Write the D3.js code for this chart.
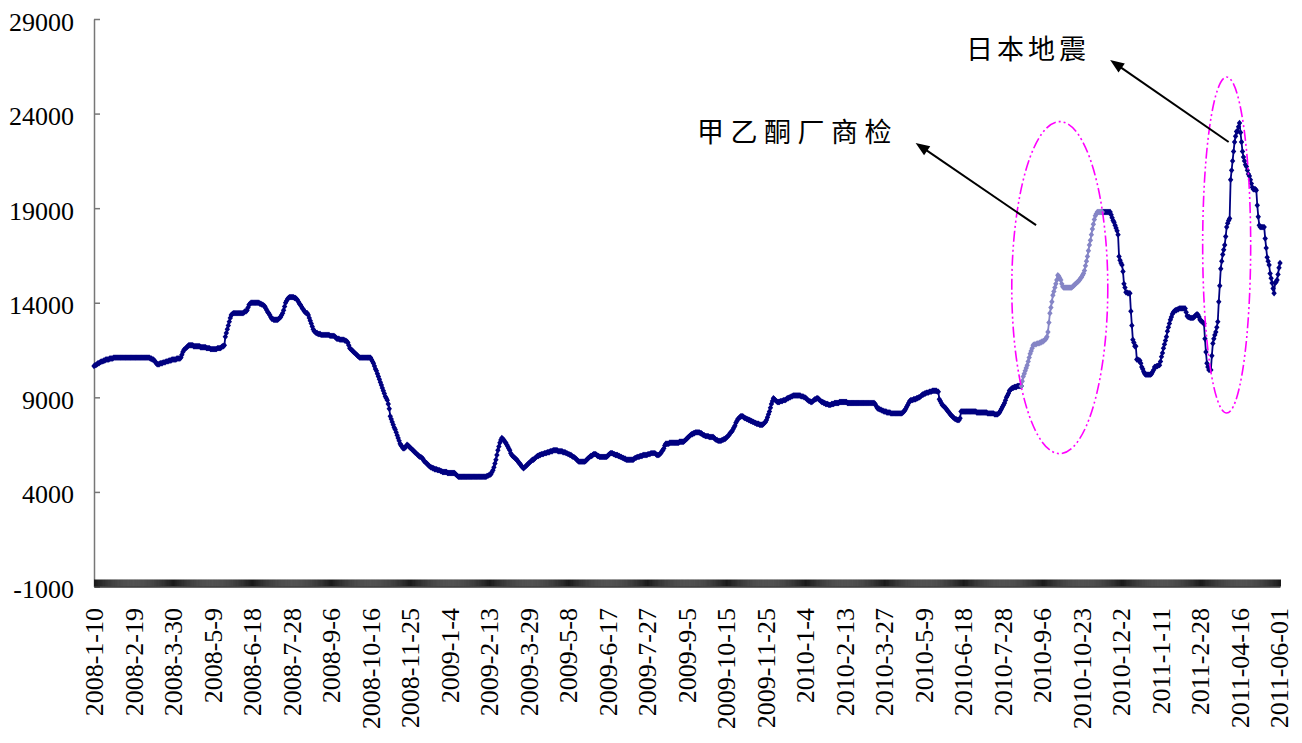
<!DOCTYPE html>
<html>
<head>
<meta charset="utf-8">
<script src="https://cdn.jsdelivr.net/npm/d3@7"></script>
<style>
  html, body { margin: 0; padding: 0; background: #fff; }
  svg { display: block; }
</style>
</head>
<body>
<svg id="chart" width="1302" height="743"></svg>
<script>
// Category axis labels: one every 40 daily observations
const tickLabels = [
  "2008-1-10", "2008-2-19", "2008-3-30", "2008-5-9", "2008-6-18", "2008-7-28",
  "2008-9-6", "2008-10-16", "2008-11-25", "2009-1-4", "2009-2-13", "2009-3-29",
  "2009-5-8", "2009-6-17", "2009-7-27", "2009-9-5", "2009-10-15", "2009-11-25",
  "2010-1-4", "2010-2-13", "2010-3-27", "2010-5-9", "2010-6-18", "2010-7-28",
  "2010-9-6", "2010-10-23", "2010-12-2", "2011-1-11", "2011-2-28", "2011-04-16",
  "2011-06-01"
];
const pointsPerLabel = 40;
const trailingPoints = 2;

// Daily price (yuan/ton), 40 values per label interval
const prices = [
  10650,10700,10700,10750,10800,10800,10850,10880,10900,10900,
  10950,10950,11000,11000,11000,11000,11050,11050,11050,11050,
  11100,11100,11100,11100,11100,11100,11100,11100,11100,11100,
  11100,11100,11100,11100,11100,11100,11100,11100,11100,11100,

  11100,11100,11100,11100,11100,11100,11100,11100,11100,11100,
  11100,11100,11100,11100,11100,11100,11100,11050,11050,11000,
  11000,10950,10900,10800,10750,10750,10750,10800,10800,10800,
  10850,10850,10850,10900,10900,10900,10950,10950,10950,11000,

  11000,11000,11000,11000,11050,11050,11050,11050,11100,11250,
  11400,11500,11550,11600,11650,11700,11750,11750,11750,11750,
  11750,11700,11700,11700,11700,11700,11700,11700,11650,11650,
  11650,11650,11650,11650,11600,11600,11600,11600,11550,11550,

  11550,11550,11550,11550,11550,11600,11600,11600,11600,11650,
  11700,11700,11750,12200,12400,12600,12800,13000,13200,13350,
  13400,13450,13450,13450,13450,13450,13450,13450,13450,13450,
  13450,13450,13500,13550,13550,13600,13750,13900,13950,14000,

  14000,14000,14000,14000,14000,14000,14000,14000,13950,13950,
  13900,13900,13850,13800,13700,13600,13500,13450,13350,13250,
  13150,13150,13100,13100,13100,13100,13100,13150,13200,13250,
  13350,13450,13600,13800,14000,14100,14200,14250,14300,14300,

  14300,14300,14300,14250,14250,14200,14150,14050,13950,13900,
  13800,13700,13650,13550,13500,13450,13450,13350,13200,13050,
  12900,12750,12600,12500,12450,12400,12400,12350,12350,12350,
  12300,12300,12300,12300,12300,12300,12300,12300,12300,12250,

  12250,12250,12250,12250,12200,12150,12100,12100,12100,12050,
  12050,12050,12050,12050,12000,12000,11950,11900,11750,11600,
  11550,11500,11450,11400,11350,11300,11250,11200,11150,11100,
  11100,11100,11100,11100,11100,11100,11100,11100,11100,11100,

  11100,11000,10900,10800,10650,10500,10400,10250,10100,9950,
  9800,9650,9500,9350,9200,9050,8950,8850,8650,8400,
  8000,7850,7700,7550,7400,7300,7150,7000,6850,6700,
  6550,6450,6400,6300,6300,6350,6400,6500,6450,6400,

  6350,6300,6250,6200,6150,6100,6050,6000,5950,5900,
  5850,5850,5800,5750,5650,5600,5550,5500,5450,5400,
  5350,5300,5300,5250,5250,5200,5200,5200,5150,5150,
  5150,5100,5100,5050,5050,5050,5050,5050,5000,5000,

  5000,5000,5000,5000,5000,5000,4950,4900,4850,4800,
  4800,4800,4800,4800,4800,4800,4800,4800,4800,4800,
  4800,4800,4800,4800,4800,4800,4800,4800,4800,4800,
  4800,4800,4800,4800,4800,4800,4800,4800,4850,4850,

  4900,4900,4950,5050,5150,5300,5500,5700,5950,6200,
  6400,6600,6750,6850,6800,6750,6650,6600,6500,6400,
  6300,6200,6050,5950,5900,5850,5800,5750,5700,5650,
  5550,5500,5450,5350,5300,5250,5300,5350,5400,5450,

  5500,5550,5600,5650,5700,5700,5750,5800,5850,5900,
  5900,5950,5950,6000,6000,6000,6050,6050,6050,6100,
  6100,6100,6150,6150,6150,6200,6200,6200,6200,6200,
  6150,6150,6150,6150,6150,6100,6100,6100,6050,6050,

  6000,6000,5950,5950,5900,5850,5850,5800,5750,5700,
  5650,5600,5600,5600,5600,5600,5600,5600,5650,5700,
  5750,5800,5850,5900,5900,5950,6000,6000,6000,5950,
  5900,5900,5850,5850,5850,5850,5850,5850,5850,5850,

  5900,5950,6000,6050,6050,6050,6000,6000,5950,5950,
  5950,5900,5900,5850,5850,5800,5800,5750,5750,5700,
  5700,5700,5700,5700,5700,5700,5700,5750,5800,5800,
  5850,5850,5850,5900,5900,5900,5950,5950,5950,5950,

  5950,6000,6000,6000,6050,6050,6050,6050,6050,6000,
  5950,5950,5950,6000,6050,6150,6200,6300,6450,6550,
  6550,6550,6550,6600,6600,6600,6600,6600,6600,6600,
  6600,6600,6600,6650,6650,6650,6650,6650,6700,6750,

  6800,6850,6900,6950,7000,7050,7050,7100,7100,7150,
  7150,7150,7150,7150,7100,7100,7050,7000,7000,6950,
  6950,6950,6950,6900,6900,6900,6900,6900,6850,6800,
  6750,6750,6700,6700,6700,6700,6750,6750,6800,6800,

  6850,6900,6950,7000,7100,7150,7200,7300,7400,7500,
  7650,7750,7850,7900,7950,8000,8000,8000,7950,7900,
  7900,7850,7850,7800,7800,7750,7750,7700,7700,7650,
  7650,7600,7600,7600,7550,7550,7550,7550,7600,7650,

  7700,7800,7950,8100,8250,8450,8650,8800,8950,8900,
  8850,8800,8750,8750,8750,8800,8800,8800,8850,8850,
  8850,8900,8950,8950,9000,9000,9050,9050,9100,9100,
  9100,9100,9100,9100,9100,9100,9050,9050,9050,9000,

  9000,8950,8900,8850,8800,8800,8750,8750,8800,8850,
  8900,8900,8950,8950,8900,8850,8800,8750,8750,8700,
  8700,8650,8650,8650,8600,8600,8600,8650,8650,8650,
  8700,8700,8700,8700,8700,8750,8750,8750,8750,8750,

  8750,8750,8750,8700,8700,8700,8700,8700,8700,8700,
  8700,8700,8700,8700,8700,8700,8700,8700,8700,8700,
  8700,8700,8700,8700,8700,8700,8700,8700,8700,8700,
  8700,8650,8550,8450,8400,8400,8350,8350,8300,8300,

  8250,8250,8250,8200,8200,8200,8200,8150,8150,8150,
  8150,8150,8150,8150,8150,8150,8150,8150,8150,8200,
  8250,8300,8400,8500,8600,8700,8800,8850,8850,8850,
  8900,8900,8900,8950,8950,9000,9000,9050,9100,9150,

  9150,9200,9200,9250,9250,9250,9300,9300,9300,9350,
  9350,9350,9350,9350,9300,9300,8900,8800,8700,8600,
  8550,8500,8450,8400,8300,8250,8200,8100,8050,8000,
  7950,7900,7850,7850,7800,7800,7800,7900,8250,8250,

  8250,8250,8250,8250,8250,8250,8250,8250,8250,8250,
  8250,8250,8250,8250,8200,8200,8200,8200,8200,8200,
  8200,8200,8200,8200,8200,8150,8150,8150,8150,8150,
  8150,8150,8100,8100,8100,8100,8150,8200,8300,8400,

  8500,8600,8700,8850,9000,9100,9200,9350,9400,9450,
  9500,9500,9550,9550,9550,9600,9600,9600,9600,9600,
  9850,10100,10250,10400,10550,10700,10900,11100,11300,11450,
  11600,11750,11800,11800,11800,11850,11850,11850,11900,11900,

  11950,11950,12000,12050,12100,12200,12450,12950,13450,13750,
  14050,14400,14600,14800,15000,15200,15450,15400,15300,15200,
  15000,14850,14800,14800,14800,14800,14800,14800,14800,14800,
  14800,14850,14900,14950,15000,15050,15100,15150,15200,15300,

  15350,15450,15550,15700,15950,16200,16450,16750,17050,17300,
  17600,17900,18150,18400,18600,18700,18800,18800,18800,18800,
  18800,18800,18800,18800,18800,18800,18800,18800,18800,18800,
  18650,18500,18350,18250,18100,17950,17800,17600,16450,16250,

  16100,16000,15650,15000,14800,14550,14550,14500,14500,14500,
  13550,12800,12050,11900,11700,11700,11000,11000,10950,10950,
  10800,10600,10500,10350,10250,10200,10200,10200,10200,10200,
  10200,10250,10350,10450,10600,10600,10650,10650,10700,10700,

  10900,11150,11350,11600,11800,12000,12200,12500,12700,12900,
  13100,13250,13400,13500,13550,13600,13600,13650,13650,13700,
  13700,13700,13700,13700,13700,13700,13500,13300,13250,13250,
  13200,13200,13200,13200,13250,13300,13350,13400,13350,13250,

  13100,13050,13000,12950,12900,12100,11400,10800,10600,10450,
  10450,10450,11200,11850,12100,12300,12450,12700,13000,14050,
  14900,15800,16200,16550,16800,17050,17500,18000,18200,18350,
  18450,20500,21000,21500,22000,22500,22800,23050,23050,23300,

  23500,23000,22500,22000,21700,21500,21300,21200,21000,20800,
  20700,20500,20300,20100,20000,20000,20000,19950,19150,18550,
  18100,18000,18000,18000,18000,18000,17400,16900,16400,16200,
  16000,15550,15300,15050,14750,14500,15050,15100,15200,15500,

  15850,16100
];

// Period drawn in the lighter colour
const highlightFrom = "2010-8-16";
const highlightTo = "2010-11-13";

const yTicks = [-1000, 4000, 9000, 14000, 19000, 24000, 29000];

// Callouts: ellipse centres and arrow ends in data terms
const callouts = [
  { label: "甲乙酮厂商检", ellipse: { date: "2010-9-24", value: 14800 },
    arrowFrom: { date: "2010-8-31", value: 18100 }, arrowTo: { date: "2010-4-28", value: 22450 } },
  { label: "日本地震", ellipse: { date: "2011-3-27", value: 17050 },
    arrowFrom: { date: "2011-3-29", value: 22500 }, arrowTo: { date: "2010-11-21", value: 26830 } }
];

// ---- build the daily category list from the label dates ----
const categories = [];
tickLabels.forEach((lab, k) => {
  const [yy, mm, dd] = lab.split("-").map(Number);
  const n = k < tickLabels.length - 1 ? pointsPerLabel : trailingPoints;
  for (let j = 0; j < n; j++) {
    const dt = new Date(Date.UTC(yy, mm - 1, dd + j));
    categories.push(`${dt.getUTCFullYear()}-${dt.getUTCMonth() + 1}-${dt.getUTCDate()}`);
  }
});
const labelCats = tickLabels.map((_, k) => categories[k * pointsPerLabel]);

const svg = d3.select("#chart");
const axisFont = "'Liberation Serif', 'Times New Roman', serif";

const x = d3.scalePoint().domain(categories).range([94, 1280]);
const y = d3.scaleLinear().domain([-1000, 29000]).range([586.5, 19]);

// ---- y axis ----
const gy = svg.append("g")
  .attr("transform", `translate(${x.range()[0]},0)`)
  .call(d3.axisLeft(y).tickValues(yTicks).tickSize(-6).tickSizeOuter(0)
    .tickPadding(20).tickFormat(d => String(d)));
gy.select(".domain").attr("stroke", "#777").attr("stroke-width", 1.5);
gy.selectAll(".tick line").attr("stroke", "#777").attr("stroke-width", 1.5);
gy.selectAll(".tick text")
  .attr("dy", 11)
  .attr("fill", "#000")
  .style("font-family", axisFont)
  .style("font-size", "26px");

// ---- x axis: one tick per day ----
const gx = svg.append("g")
  .attr("transform", `translate(0,${y(-1000)})`)
  .call(d3.axisBottom(x).tickSize(-7).tickSizeOuter(0).tickFormat(""));
gx.select(".domain").attr("stroke", "#333").attr("stroke-width", 1.5);
gx.selectAll(".tick line").attr("stroke", "#1a1a1a").attr("stroke-width", 1);

// ---- x labels ----
const gl = svg.append("g")
  .attr("transform", `translate(0,${y(-1000)})`)
  .call(d3.axisBottom(x).tickValues(labelCats).tickSize(0)
    .tickFormat((d, i) => tickLabels[i]));
gl.select(".domain").remove();
gl.selectAll(".tick text")
  .attr("transform", "rotate(-90)")
  .attr("x", -21.5)
  .attr("y", 0)
  .attr("dy", "0.34em")
  .attr("fill", "#000")
  .style("text-anchor", "end")
  .style("font-family", axisFont)
  .style("font-size", "26px");

// ---- price series ----
const hs = categories.indexOf(highlightFrom);
const he = categories.indexOf(highlightTo);
const series = [
  { color: "#000080", inRange: i => i <= hs || i >= he },
  { color: "#8585c6", inRange: i => i >= hs && i <= he }
];
const diamond = "M0,-3.2L2.7,0L0,3.2L-2.7,0Z";

series.forEach(s => {
  const line = d3.line()
    .defined((d, i) => s.inRange(i))
    .x((d, i) => x(categories[i]))
    .y(d => y(d));
  svg.append("path")
    .datum(prices)
    .attr("d", line)
    .attr("fill", "none")
    .attr("stroke", s.color)
    .attr("stroke-width", 1.8)
    .attr("stroke-linejoin", "round");
  svg.append("g")
    .selectAll("path")
    .data(prices.map((v, i) => ({ v, i })).filter(p => s.inRange(p.i)))
    .join("path")
    .attr("d", diamond)
    .attr("transform", p => `translate(${x(categories[p.i])},${y(p.v)})`)
    .attr("fill", s.color);
});

// ---- callouts ----
const ellipseRadii = [{ rx: 48, ry: 166 }, { rx: 24, ry: 168 }];
const labelPos = [{ x: 697, y: 142, spacing: 6.5 }, { x: 966, y: 59, spacing: 4 }];

callouts.forEach((c, k) => {
  svg.append("ellipse")
    .attr("cx", x(c.ellipse.date))
    .attr("cy", y(c.ellipse.value))
    .attr("rx", ellipseRadii[k].rx)
    .attr("ry", ellipseRadii[k].ry)
    .attr("fill", "none")
    .attr("stroke", "#ff00ff")
    .attr("stroke-width", 1.6)
    .attr("stroke-dasharray", "11,3,2,3,2,3");

  const x0 = x(c.arrowFrom.date), y0 = y(c.arrowFrom.value);
  const x1 = x(c.arrowTo.date), y1 = y(c.arrowTo.value);
  const len = Math.hypot(x1 - x0, y1 - y0);
  const ux = (x1 - x0) / len, uy = (y1 - y0) / len;
  const headLen = 14, headHalf = 5.5;
  const bx = x1 - ux * headLen, by = y1 - uy * headLen;
  svg.append("line")
    .attr("x1", x0).attr("y1", y0)
    .attr("x2", bx + ux * 2).attr("y2", by + uy * 2)
    .attr("stroke", "#000").attr("stroke-width", 2);
  svg.append("path")
    .attr("d", `M${x1},${y1}L${bx - uy * headHalf},${by + ux * headHalf}L${bx + uy * headHalf},${by - ux * headHalf}Z`)
    .attr("fill", "#000");

  svg.append("text")
    .attr("x", labelPos[k].x)
    .attr("y", labelPos[k].y)
    .attr("fill", "#000")
    .style("font-family", "'Noto Sans CJK SC', sans-serif")
    .style("font-size", "27px")
    .style("letter-spacing", labelPos[k].spacing + "px")
    .text(c.label);
});
</script>
</body>
</html>
